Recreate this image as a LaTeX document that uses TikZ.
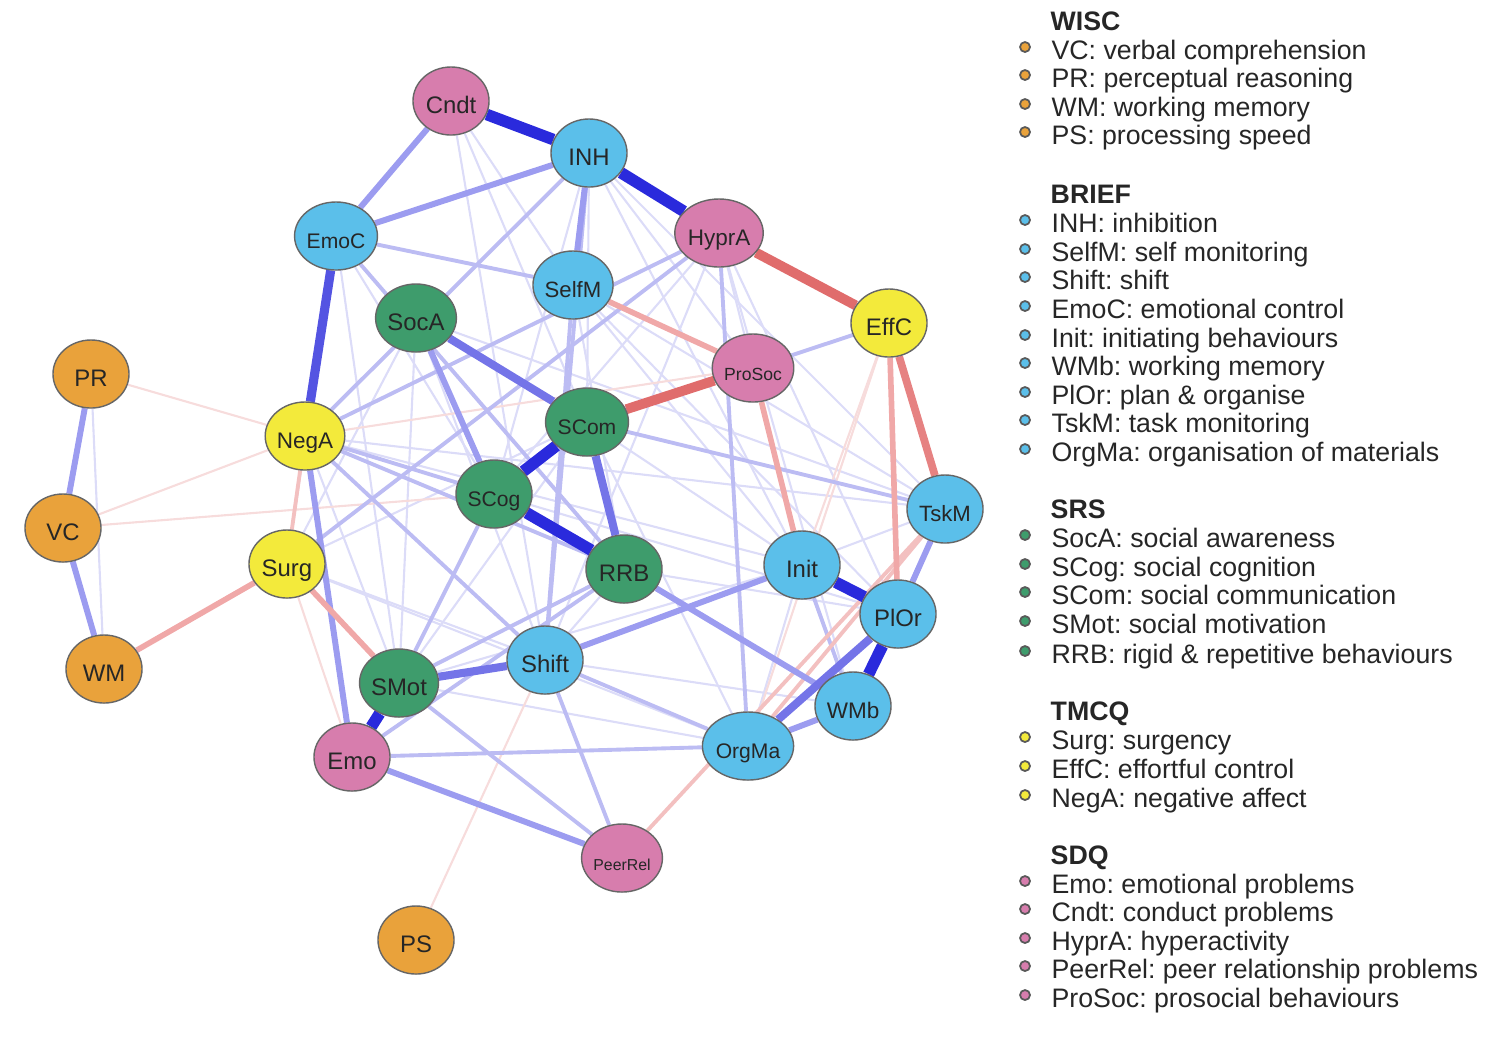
\documentclass[tikz,border=0pt]{standalone}
\usepackage{fontspec}
\setmainfont{Liberation Sans}
\frenchspacing
\usetikzlibrary{shapes,positioning,backgrounds}
\definecolor{cwisc}{HTML}{E9A23B}
\definecolor{cbrief}{HTML}{5BBFEA}
\definecolor{csrs}{HTML}{3E9C6C}
\definecolor{ctmcq}{HTML}{F3EA3B}
\definecolor{csdq}{HTML}{D77DAD}
\tikzset{
	nd/.style={ellipse,draw=black!60,line width=0.4pt,minimum width=0.76cm,minimum height=0.68cm,inner sep=0pt,text=black!85,text height=0.72em,text depth=0pt,font=\fontsize{6.8}{7}\selectfont},
	sm/.style={font=\fontsize{6}{7}\selectfont},xs/.style={font=\fontsize{5}{6}\selectfont},
	dot/.style={circle,draw=black!65,line width=0.5pt,minimum size=0.1cm,inner sep=0pt},
	lg/.style={inner sep=0pt,anchor=west,text height=0.72em,text depth=0pt,text=black!85,font=\fontsize{7.6}{9}\selectfont},
	lgh/.style={lg,font=\fontsize{7.6}{9}\selectfont\bfseries},
	bfaint/.style={draw={rgb,255:red,220;green,220;blue,248},line width=0.6pt},
	blight/.style={draw={rgb,255:red,188;green,188;blue,243},line width=1.1pt},
	bmid/.style={draw={rgb,255:red,156;green,156;blue,240},line width=1.7pt},
	bstrong/.style={draw={rgb,255:red,116;green,116;blue,232},line width=2.3pt},
	bthick/.style={draw={rgb,255:red,42;green,42;blue,220},line width=3.3pt},
	rfaint/.style={draw={rgb,255:red,247;green,220;blue,220},line width=0.6pt},
	rlight/.style={draw={rgb,255:red,243;green,192;blue,192},line width=1.1pt},
	rmid/.style={draw={rgb,255:red,240;green,168;blue,168},line width=1.6pt},
	rthick/.style={draw={rgb,255:red,224;green,108;blue,108},line width=2.8pt}
}

\begin{document}
\begin{tikzpicture}[x=0.01cm,y=-0.01cm]
	\useasboundingbox (0,0) rectangle (1489,1041);
	% WISC
	\node[nd,fill=cwisc] (PR) at (91,374) {PR};
	\node[nd,fill=cwisc] (VC) at (63,528) {VC};
	\node[nd,fill=cwisc] (WM) at (104,669) {WM};
	\node[nd,fill=cwisc] (PS) at (416,940) {PS};
	% BRIEF
	\node[nd,fill=cbrief] (INH) at (589,153) {INH};
	\node[nd,sm,fill=cbrief] (EmoC) at (336,236) {EmoC};
	\node[nd,fill=cbrief,font=\fontsize{6.3}{7}\selectfont] (SelfM) at (573,285) {SelfM};
	\node[nd,fill=cbrief,font=\fontsize{6.3}{7}\selectfont] (TskM) at (945,509) {TskM};
	\node[nd,fill=cbrief] (Init) at (802,565) {Init};
	\node[nd,fill=cbrief] (PlOr) at (898,614) {PlOr};
	\node[nd,fill=cbrief] (Shift) at (545,660) {Shift};
	\node[nd,fill=cbrief,font=\fontsize{6.4}{7}\selectfont] (WMb) at (853,706) {WMb};
	\node[nd,sm,fill=cbrief] (OrgMa) at (748,746) {OrgMa};
	% SRS
	\node[nd,fill=csrs] (SocA) at (416,318) {SocA};
	\node[nd,sm,fill=csrs] (SCom) at (587,422) {SCom};
	\node[nd,sm,fill=csrs] (SCog) at (494,494) {SCog};
	\node[nd,fill=csrs] (RRB) at (624,569) {RRB};
	\node[nd,fill=csrs] (SMot) at (399,683) {SMot};
	% TMCQ
	\node[nd,fill=ctmcq] (EffC) at (889,323) {EffC};
	\node[nd,fill=ctmcq,font=\fontsize{6.4}{7}\selectfont] (NegA) at (305,436) {NegA};
	\node[nd,fill=ctmcq] (Surg) at (287,564) {Surg};
	% SDQ
	\node[nd,fill=csdq] (Cndt) at (451,101) {Cndt};
	\node[nd,fill=csdq,font=\fontsize{6.4}{7}\selectfont] (HyprA) at (719,233) {HyprA};
	\node[nd,xs,fill=csdq] (ProSoc) at (753,368) {ProSoc};
	\node[nd,fill=csdq] (Emo) at (352,757) {Emo};
	\node[nd,fill=csdq,font=\fontsize{4.5}{5}\selectfont] (PeerRel) at (622,858) {PeerRel};

	\begin{scope}[on background layer]
	\foreach \a/\b in {INH/SCom,INH/SCog,INH/Init,INH/TskM,INH/ProSoc,Cndt/SelfM,Cndt/SCom,Cndt/Shift,HyprA/Shift,HyprA/Init,HyprA/WMb,HyprA/PlOr,HyprA/SCog,SelfM/RRB,SelfM/TskM,SelfM/PlOr,SelfM/Init,SocA/Shift,SocA/SMot,SocA/Surg,SocA/TskM,SCom/Init,SCom/SMot,SCom/OrgMa,EmoC/SMot,EmoC/SCog,EmoC/Surg,NegA/Init,NegA/SMot,NegA/TskM,Surg/SCom,Surg/Shift,Surg/OrgMa,Shift/WMb,Shift/TskM,SMot/OrgMa,SMot/Init,RRB/Shift,Init/OrgMa,RRB/PlOr,SCog/PlOr,PR/WM}
		\draw[bfaint] (\a) -- (\b);
	\foreach \a/\b in {PR/NegA,VC/NegA,VC/SCog,Surg/Emo,PS/Shift,EffC/OrgMa,EffC/Init,NegA/ProSoc}
		\draw[rfaint] (\a) -- (\b);
	\foreach \a/\b in {EmoC/SelfM,INH/NegA,INH/Shift,SMot/RRB,Emo/OrgMa,SelfM/Shift,HyprA/NegA,Surg/HyprA,HyprA/OrgMa,NegA/RRB,NegA/Shift,NegA/SCog,SMot/PeerRel,Shift/PeerRel,Emo/RRB,Init/WMb,ProSoc/EffC,SCom/TskM,EmoC/RRB,SCog/SMot,Shift/OrgMa}
		\draw[blight] (\a) -- (\b);
	\foreach \a/\b in {NegA/Surg,TskM/OrgMa,TskM/PeerRel}
		\draw[rlight] (\a) -- (\b);
	\foreach \a/\b in {SocA/SCog,NegA/Emo,Emo/PeerRel,Shift/Init,RRB/WMb,TskM/PlOr,WMb/OrgMa,INH/SelfM,INH/EmoC,Cndt/EmoC,PR/VC,VC/WM}
		\draw[bmid] (\a) -- (\b);
	\foreach \a/\b in {EffC/PlOr,ProSoc/Init,SelfM/ProSoc,Surg/SMot,Surg/WM}
		\draw[rmid] (\a) -- (\b);
	\foreach \a/\b in {SMot/Shift,SCom/RRB,SocA/SCom,PlOr/OrgMa}
		\draw[bstrong] (\a) -- (\b);
	\draw[bstrong,draw={rgb,255:red,84;green,84;blue,226},line width=2.6pt] (EmoC) -- (NegA);
	\draw[rthick,line width=2.2pt,draw={rgb,255:red,230;green,130;blue,130}] (EffC) -- (TskM);
	\foreach \a/\b in {HyprA/EffC,SCom/ProSoc}
		\draw[rthick] (\a) -- (\b);
	\foreach \a/\b in {Cndt/INH,INH/HyprA,SCom/SCog,SCog/RRB,SMot/Emo,Init/PlOr,PlOr/WMb}
		\draw[bthick] (\a) -- (\b);
	\end{scope}

	% legend
	\node[lgh] (wisc) at (1050,18) {WISC};
	\foreach \y/\t in {47/VC: verbal comprehension,75/PR: perceptual reasoning,104/WM: working memory,132/PS: processing speed}{
		\node[dot,fill=cwisc] (d\y) at (1025,\y) {};
		\node[lg,right=0.2cm of d\y] (t\y) {\t};
	}
	\node[lgh] (brief) at (1050,191) {BRIEF};
	\foreach \y/\t in {220/INH: inhibition,249/SelfM: self monitoring,277/Shift: shift,306/EmoC: emotional control,335/Init: initiating behaviours,363/WMb: working memory,392/PlOr: plan \& organise,420/TskM: task monitoring,449/OrgMa: organisation of materials}{
		\node[dot,fill=cbrief] (d\y) at (1025,\y) {};
		\node[lg,right=0.2cm of d\y] (t\y) {\t};
	}
	\node[lgh] (srs) at (1050,506) {SRS};
	\foreach \y/\t in {535/SocA: social awareness,564/SCog: social cognition,592/SCom: social communication,621/SMot: social motivation,651/RRB: rigid \& repetitive behaviours}{
		\node[dot,fill=csrs] (d\y) at (1025,\y) {};
		\node[lg,right=0.2cm of d\y] (t\y) {\t};
	}
	\node[lgh] (tmcq) at (1050,708) {TMCQ};
	\foreach \y/\t in {737/Surg: surgency,766/EffC: effortful control,795/NegA: negative affect}{
		\node[dot,fill=ctmcq] (d\y) at (1025,\y) {};
		\node[lg,right=0.2cm of d\y] (t\y) {\t};
	}
	\node[lgh] (sdq) at (1050,852) {SDQ};
	\foreach \y/\t in {881/Emo: emotional problems,909/Cndt: conduct problems,938/HyprA: hyperactivity,966/PeerRel: peer relationship problems,995/ProSoc: prosocial behaviours}{
		\node[dot,fill=csdq] (d\y) at (1025,\y) {};
		\node[lg,right=0.2cm of d\y] (t\y) {\t};
	}
\end{tikzpicture}
\end{document}
